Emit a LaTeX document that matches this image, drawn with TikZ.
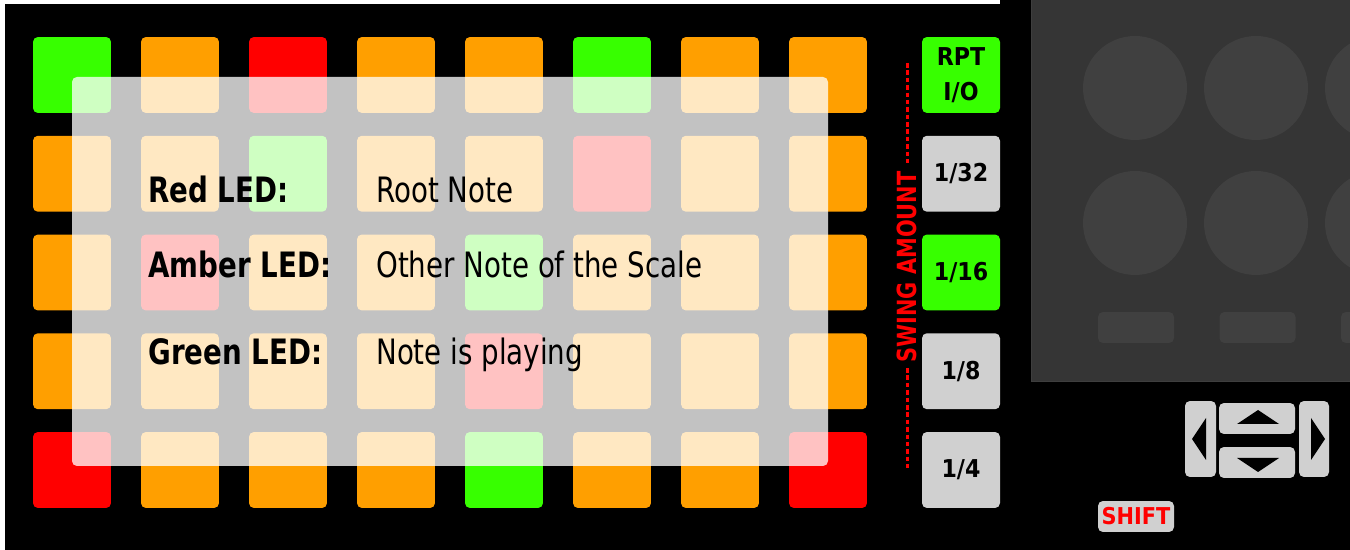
\documentclass[tikz,border=0pt]{standalone}
\usepackage{fontspec}
\setmainfont{DejaVu Sans Condensed}
\newfontfamily\narrowfont[FakeStretch=0.88]{DejaVu Sans Condensed}
\usetikzlibrary{positioning}

\definecolor{padg}{RGB}{55,255,0}
\definecolor{pado}{RGB}{255,159,0}
\definecolor{padr}{RGB}{255,0,0}
\definecolor{btngray}{RGB}{208,208,208}
\definecolor{panelgray}{RGB}{53,53,53}
\definecolor{knobgray}{RGB}{64,64,64}

\begin{document}
\begin{tikzpicture}[x=0.02cm, y=-0.02cm,
  pad/.style={rectangle, rounded corners=2.8pt, minimum width=1.56cm,
    minimum height=1.52cm, inner sep=0pt},
  btn/.style={pad, fill=btngray, align=center,
    font=\bfseries\fontsize{14}{20}\selectfont},
  legend/.style={anchor=base west, inner sep=0pt,
    font=\narrowfont\fontsize{19.9}{24}\selectfont},
  legendkey/.style={legend, font=\narrowfont\bfseries\fontsize{19.9}{24}\selectfont},
  knob/.style={circle, fill=knobgray, minimum size=2.08cm, inner sep=0pt},
  fader/.style={rectangle, rounded corners=2.8pt, fill=knobgray,
    minimum width=1.52cm, minimum height=0.62cm, inner sep=0pt},
  navkey/.style={rectangle, rounded corners=2.8pt, fill=btngray, inner sep=0pt},
  swingdash/.style={padr, line width=1.7pt, dash pattern=on 2.6pt off 1.6pt}]
\def\padw{108}
\def\padh{98.75}

\useasboundingbox (0,0) rectangle (1350,550);
\fill[white] (0,0) rectangle (1350,550);
\fill[black] (5,4) rectangle (1350,550);
\fill[black] (1000,0) rectangle (1350,4);

% pad grid
\foreach \rowcols [count=\r] in {{g,o,r,o,o,g,o,o},{o,o,g,o,o,r,o,o},
    {o,r,o,o,g,o,o,o},{o,o,o,o,r,o,o,o},{r,o,o,o,g,o,o,r}}{
  \foreach \col [count=\c] in \rowcols{
    \node[pad, fill=pad\col] (pad-\r-\c)
      at ({72+\padw*(\c-1)}, {75+\padh*(\r-1)}) {};
  }
}

\fill[white, fill opacity=0.76, rounded corners=2.8pt] (72,77) rectangle (828,466);

\node[legendkey] (redkey) at (148,203) {Red LED:};
\node[legend] (redval) at (376,203) {Root Note};
\node[legendkey] (amberkey) at (148,278) {Amber LED:};
\node[legend] (amberval) at (376,278) {Other Note of the Scale};
\node[legendkey] (greenkey) at (148,365) {Green LED:};
\node[legend] (greenval) at (376,365) {Note is playing};

% swing buttons
\node[btn, fill=padg] (rpt) at (961,75) {RPT\\I/O};
\node[btn] (swing32) at (961,{75+\padh}) {1/32};
\node[btn, fill=padg] (swing16) at (961,{75+2*\padh}) {1/16};
\node[btn] (swing8) at (961,{75+3*\padh}) {1/8};
\node[btn] (swing4) at (961,{75+4*\padh}) {1/4};

\node[rotate=90, text=padr, inner sep=3pt,
  font=\narrowfont\bfseries\fontsize{15}{18}\selectfont] (swing) at (907,267) {SWING AMOUNT};
\coordinate (dashtop) at (907,63);
\coordinate (dashbot) at (907,468);
\draw[swingdash] (dashtop) -- (swing.east);
\draw[swingdash] (swing.west) -- (dashbot);

% knob panel
\fill[panelgray, draw={rgb,255:red,62;green,62;blue,62}, line width=0.5pt]
  (1031,-2) rectangle (1352,381);
\foreach \kx [count=\k] in {1135,1256,1377}{
  \node[knob] (knobA-\k) at (\kx,88) {};
  \node[knob] (knobB-\k) at (\kx,223) {};
}
\foreach \fx [count=\f] in {1136,1257.5,1379}
  \node[fader] (fader-\f) at (\fx,327.5) {};

% nav keys
\node[navkey, minimum width=0.62cm, minimum height=1.52cm] (navleft) at (1200.5,439) {};
\node[navkey, minimum width=1.52cm, minimum height=0.62cm] (navup) at (1257,418.5) {};
\node[navkey, minimum width=1.52cm, minimum height=0.62cm] (navdown) at (1257,462.5) {};
\node[navkey, minimum width=0.60cm, minimum height=1.52cm] (navright) at (1314,439) {};
\fill[black] (1192,439) -- (1206,418) -- (1206,460) -- cycle;
\fill[black] (1258,410) -- (1279,424) -- (1237,424) -- cycle;
\fill[black] (1237,458) -- (1279,458) -- (1258,472) -- cycle;
\fill[black] (1311,418) -- (1325,439) -- (1311,460) -- cycle;

\node[navkey, minimum width=1.52cm, minimum height=0.62cm, text=padr,
  font=\bfseries\fontsize{13.2}{16}\selectfont] (shift) at (1136,516.5) {SHIFT};

\end{tikzpicture}
\end{document}
